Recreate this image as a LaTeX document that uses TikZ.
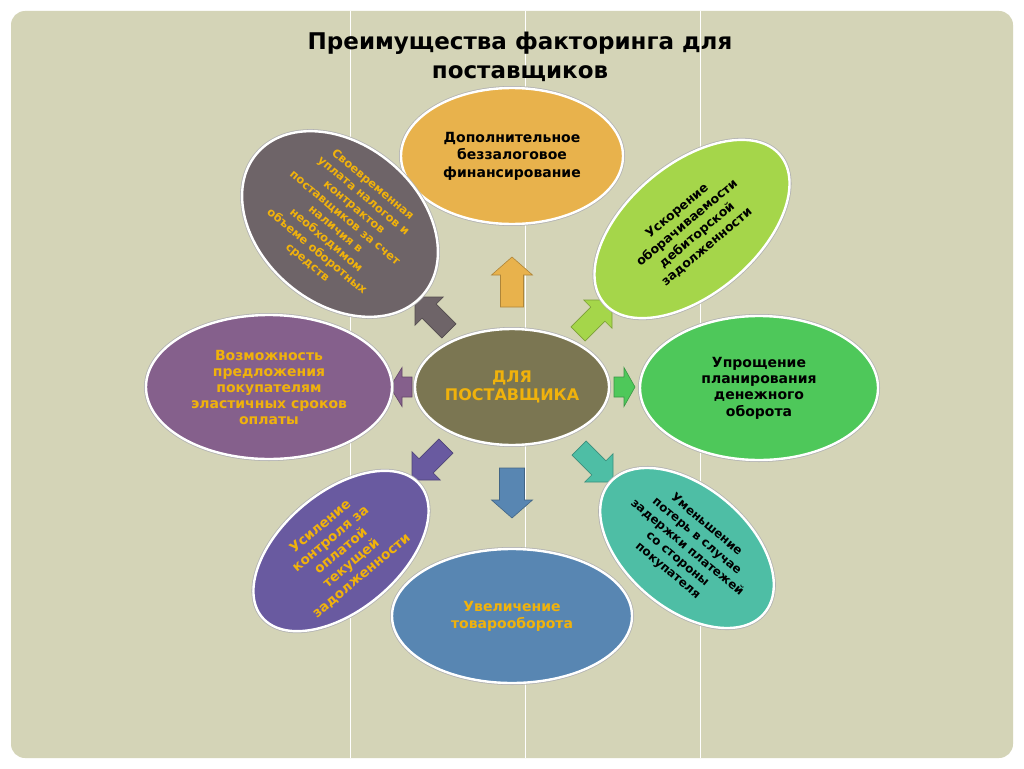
\documentclass[tikz,border=0pt]{standalone}
\usepackage{fontspec}
\setmainfont{DejaVu Sans}
\usetikzlibrary{shapes.geometric}
\definecolor{bgc}{RGB}{212,212,183}
\definecolor{cOrange}{RGB}{232,178,76}
\definecolor{cLime}{RGB}{165,214,74}
\definecolor{cGreen}{RGB}{78,200,90}
\definecolor{cTeal}{RGB}{78,190,165}
\definecolor{cBlue}{RGB}{88,134,178}
\definecolor{cViolet}{RGB}{105,90,160}
\definecolor{cMauve}{RGB}{133,96,140}
\definecolor{cGrey}{RGB}{110,100,104}
\definecolor{cOlive}{RGB}{123,118,82}
\definecolor{txtyel}{RGB}{240,178,12}
\newcommand\fsz[2]{\fontsize{#1}{#2}\selectfont\bfseries}
\tikzset{
  blob/.style={ellipse, draw=white, line width=2.4pt,
    preaction={draw=black!30, line width=4pt},
    inner sep=0pt, align=center, text=black},
  ylw/.style={text=txtyel},
  arr/.style={fill=#1, draw=#1!75!black, line width=0.6pt, line join=miter},
  pics/barrow/.style args={#1/#2/#3/#4/#5}{code={
    \path[arr=#1] (0,0) -- (-#2,#3) -- (-#2,#4) -- (-#5,#4) -- (-#5,-#4)
      -- (-#2,-#4) -- (-#2,-#3) -- cycle;
  }},
}
\begin{document}
\begin{tikzpicture}[x=1pt,y=-1pt]
\useasboundingbox (0,0) rectangle (1024,768);
\fill[white] (0,0) rectangle (1024,768);
\fill[bgc, rounded corners=14pt] (11,11) rectangle (1013,758);
\foreach \xx in {350,525,700}
  \draw[white, line width=1pt] (\xx,11) -- (\xx,758);

% title
\node[anchor=north, align=center, inner sep=0pt, font=\fsz{23}{29}] (title) at (520,32)
  {Преимущества факторинга для\\поставщиков};

% arrows
\pic[rotate=90]   (aUp)    at (512,257) {barrow={cOrange/18/20.5/11.5/50}};
\pic[rotate=-90]  (aDown)  at (512,518) {barrow={cBlue/18/20.5/12.5/50}};
\pic[rotate=180]  (aLeft)  at (390,387) {barrow={cMauve/12/19.5/10/22}};
\pic[rotate=0]    (aRight) at (635,387) {barrow={cGreen/11/19.5/10/21}};
\pic[rotate=135]  (aUL)    at (415,297) {barrow={cGrey/20/20/10/48}};
\pic[rotate=45]   (aUR)    at (612,300) {barrow={cLime/20/20/10/48}};
\pic[rotate=-135] (aDL)    at (412,480) {barrow={cViolet/20/20/10/48}};
\pic[rotate=-45]  (aDR)    at (613,482) {barrow={cTeal/20/20/10/48}};

% ellipses
\node[blob, fill=cOrange, minimum width=222pt, minimum height=136pt, font=\fsz{14}{17.5}]
  (fin) at (512,156) {Дополнительное\\беззалоговое\\финансирование};
\node[blob, fill=cLime, minimum width=230pt, minimum height=130pt, rotate=40, font=\fsz{12.5}{15.5}]
  (turn) at (692,229) {Ускорение\\оборачиваемости\\дебиторской\\задолженности};
\node[blob, fill=cGreen, minimum width=238pt, minimum height=144pt, font=\fsz{14}{16.3}]
  (plan) at (759,388) {Упрощение\\планирования\\денежного\\оборота};
\node[blob, fill=cTeal, minimum width=200pt, minimum height=122pt, rotate=-40, font=\fsz{12}{15}]
  (loss) at (687,548) {Уменьшение\\потерь в случае\\задержки платежей\\со стороны\\покупателя};
\node[blob, ylw, fill=cBlue, minimum width=240pt, minimum height=134pt, font=\fsz{14}{17}]
  (sales) at (512,616) {Увеличение\\товарооборота};
\node[blob, ylw, fill=cViolet, minimum width=206pt, minimum height=118pt, rotate=40, font=\fsz{13.5}{16}]
  (ctrl) at (341,551) {Усиление\\контроля за\\оплатой\\текущей\\задолженности};
\node[blob, ylw, fill=cMauve, minimum width=246pt, minimum height=144pt, font=\fsz{14}{16}]
  (terms) at (269,387) {Возможность\\предложения\\покупателям\\эластичных сроков\\оплаты};
\node[blob, ylw, fill=cGrey, minimum width=218pt, minimum height=126pt, rotate=-40, font=\fsz{11.5}{14.5}]
  (tax) at (340,224) {Своевременная\\уплата налогов и\\контрактов\\поставщиков за счет\\наличия в\\необходимом\\объеме оборотных\\средств};
\node[blob, ylw, fill=cOlive, minimum width=194pt, minimum height=116pt, font=\fsz{16}{18.5}]
  (ctr) at (512,387) {ДЛЯ\\ПОСТАВЩИКА};
\end{tikzpicture}
\end{document}
